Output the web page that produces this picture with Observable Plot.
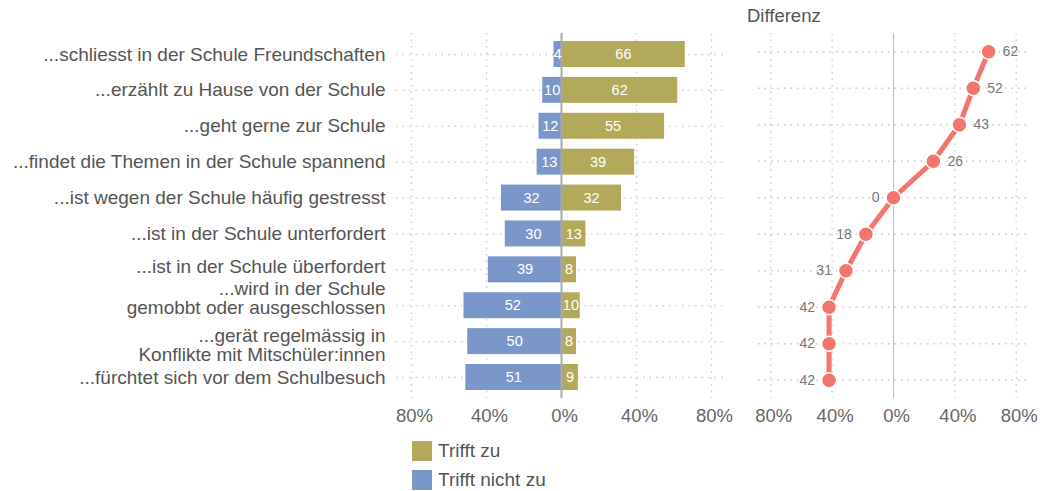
<!DOCTYPE html>
<html>
<head>
<meta charset="utf-8">
<script src="https://cdn.jsdelivr.net/npm/d3@7"></script>
<script src="https://cdn.jsdelivr.net/npm/@observablehq/plot@0.6"></script>
<style>
  html, body { margin: 0; padding: 0; background: #fff; }
  #root { position: relative; width: 1045px; height: 491px; font-family: "Liberation Sans", Arial, Helvetica, sans-serif; }
  #left { position: absolute; left: 0; top: 0; }
  #right { position: absolute; left: 740px; top: 0; }
  #title { position: absolute; left: 747px; top: 5px; font-size: 18.5px; color: #555; }
  .legend { position: absolute; left: 412px; font-size: 19px; color: #555; display: flex; align-items: center; height: 20px; }
  .sw { width: 20px; height: 20px; margin-right: 6px; }
</style>
</head>
<body>
<div id="root">
  <div id="left"></div>
  <div id="right"></div>
  <div id="title">Differenz</div>
  <div class="legend" style="top:441px"><div class="sw" style="background:#B3A95A"></div>Trifft zu</div>
  <div class="legend" style="top:470px"><div class="sw" style="background:#7B97C9"></div>Trifft nicht zu</div>
</div>
<script>
const categories = [
  "...schliesst in der Schule Freundschaften",
  "...erzählt zu Hause von der Schule",
  "...geht gerne zur Schule",
  "...findet die Themen in der Schule spannend",
  "...ist wegen der Schule häufig gestresst",
  "...ist in der Schule unterfordert",
  "...ist in der Schule überfordert",
  "...wird in der Schule\ngemobbt oder ausgeschlossen",
  "...gerät regelmässig in\nKonflikte mit Mitschüler:innen",
  "...fürchtet sich vor dem Schulbesuch"
];
const trifftZu = [66, 62, 55, 39, 32, 13, 8, 10, 8, 9];
const trifftNichtZu = [4, 10, 12, 13, 32, 30, 39, 52, 50, 51];
const differenz = [62, 52, 43, 26, 0, -18, -31, -42, -42, -42];
const xTicks = [-80, -40, 0, 40, 80];

const OLIVE = "#B3A95A", BLUE = "#7B97C9", RED = "#F3756D";
const FONT = '"Liberation Sans", Arial, Helvetica, sans-serif';

const rows = categories.map((c, i) => ({cat: c, zu: trifftZu[i], nicht: trifftNichtZu[i], diff: differenz[i]}));
const fmt = d => Math.abs(d) + "%";
const gridX = [-80, -40, 40, 80];

const common = {
  height: 430, marginTop: 33, marginBottom: 32,
  style: {fontFamily: FONT, fontSize: "17px", color: "#666", background: "transparent", overflow: "visible"}
};
const yScale = {domain: categories, paddingInner: 0.276, paddingOuter: 0.223, round: false, label: null};
const yAxisOpts = {tickSize: 0, tickPadding: 11, fontSize: 19, fill: "#555", lineHeight: 1, label: null};

const left = Plot.plot({
  ...common,
  width: 740, marginLeft: 396, marginRight: 14,
  x: {domain: [-88, 88], label: null},
  y: yScale,
  marks: [
    Plot.ruleX(gridX, {stroke: "#c8c8c8", strokeDasharray: "1.5,5", strokeWidth: 1.3}),
    Plot.ruleY(categories, {y: d => d, stroke: "#c8c8c8", strokeDasharray: "1.5,5", strokeWidth: 1.3}),
    Plot.barX(rows, {y: "cat", x1: 0, x2: d => -d.nicht, fill: BLUE}),
    Plot.barX(rows, {y: "cat", x1: 0, x2: "zu", fill: OLIVE}),
    Plot.ruleX([0], {stroke: "#aaa", strokeWidth: 2}),
    Plot.text(rows, {y: "cat", x: d => -d.nicht / 2, text: d => String(d.nicht), fill: "white", fontSize: 14.5}),
    Plot.text(rows, {y: "cat", x: d => d.zu / 2, text: d => String(d.zu), fill: "white", fontSize: 14.5}),
    Plot.axisX({ticks: xTicks, tickFormat: fmt, tickSize: 0, tickPadding: 10, fontSize: 18.5, fill: "#666", dx: 3, label: null}),
    Plot.axisY(categories.slice(0, 6).concat(categories.slice(9)), yAxisOpts),
    Plot.axisY([categories[6]], {...yAxisOpts, dy: -3}),
    Plot.axisY([categories[7]], {...yAxisOpts, dy: -7}),
    Plot.axisY([categories[8]], {...yAxisOpts, dy: 3.5})
  ]
});
document.getElementById("left").appendChild(left);

const right = Plot.plot({
  ...common,
  width: 305, marginLeft: 18, marginRight: 17,
  x: {domain: [-88, 88], label: null},
  y: {...yScale, axis: null},
  marks: [
    Plot.ruleX(gridX, {stroke: "#c8c8c8", strokeDasharray: "1.5,5", strokeWidth: 1.3}),
    Plot.ruleY(categories, {y: d => d, stroke: "#c8c8c8", strokeDasharray: "1.5,5", strokeWidth: 1.3}),
    Plot.ruleX([0], {stroke: "#bbb", strokeWidth: 1}),
    Plot.line(rows, {x: "diff", y: "cat", stroke: RED, strokeWidth: 5}),
    Plot.dot(rows, {x: "diff", y: "cat", r: 7.5, fill: RED, stroke: "white", strokeWidth: 1.5}),
    Plot.text(rows.filter(d => d.diff > 0), {x: "diff", y: "cat", text: d => String(Math.abs(d.diff)), dx: 14, textAnchor: "start", fill: "#777", fontSize: 14}),
    Plot.text(rows.filter(d => d.diff <= 0), {x: "diff", y: "cat", text: d => String(Math.abs(d.diff)), dx: -14, textAnchor: "end", fill: "#777", fontSize: 14}),
    Plot.axisX({ticks: xTicks, tickFormat: fmt, tickSize: 0, tickPadding: 10, fontSize: 18.5, fill: "#666", dx: 3, label: null})
  ]
});
document.getElementById("right").appendChild(right);
</script>
</body>
</html>
